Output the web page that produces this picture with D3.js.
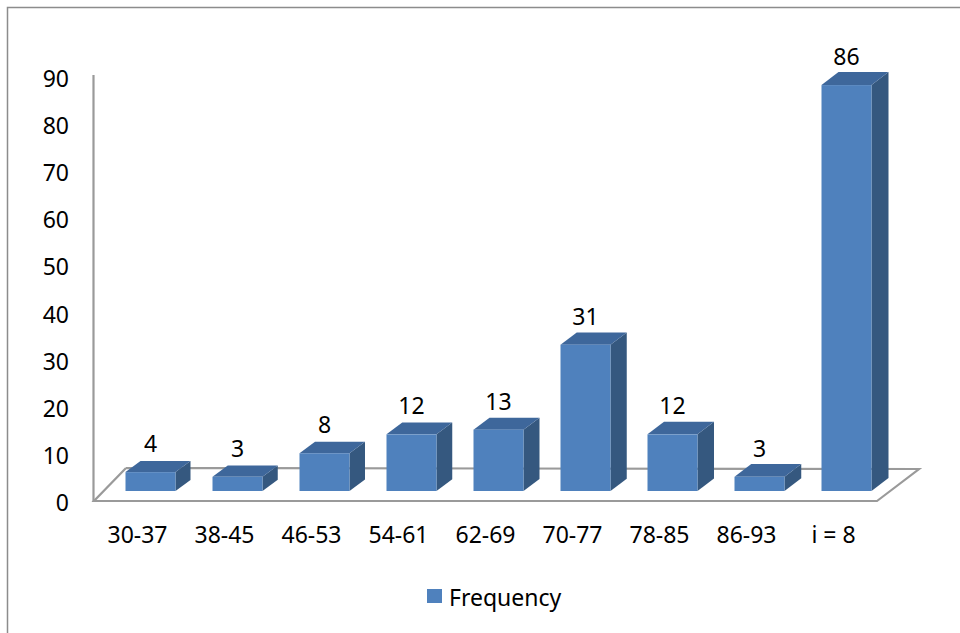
<!DOCTYPE html>
<html>
<head>
<meta charset="utf-8">
<script src="https://cdn.jsdelivr.net/npm/d3@7"></script>
<style>
  html, body { margin: 0; padding: 0; background: #fff; }
  svg { display: block; }
  text { font-family: "Noto Sans", "Open Sans", sans-serif; fill: #000; }
</style>
</head>
<body>
<svg id="chart" width="960" height="633"></svg>
<script>
// Frequency distribution by class interval
const categories = ["30-37", "38-45", "46-53", "54-61", "62-69", "70-77", "78-85", "86-93", "i = 8"];
const frequency = [4, 3, 8, 12, 13, 31, 12, 3, 86];
const yTicks = [0, 10, 20, 30, 40, 50, 60, 70, 80, 90];
const seriesName = "Frequency";

const svg = d3.select("#chart");
const W = 960, H = 633;

// chart frame
svg.append("rect")
  .attr("x", 7.5).attr("y", 7.5)
  .attr("width", W + 10).attr("height", H + 10)
  .attr("fill", "#fff").attr("stroke", "#8c8c8c").attr("stroke-width", 1.5);

// floor geometry (front edge + receding depth)
const floorLeft = 94, floorRight = 877, floorY = 501;
const depthLeft = { dx: 32, dy: -33 }, depthRight = { dx: 42, dy: -32 };

const x = d3.scaleBand().domain(categories).range([floorLeft, floorRight]).paddingInner(0).paddingOuter(0);
// value axis along the front-left edge
const y = d3.scaleLinear().domain([0, 90]).range([502, 78]);
// bar faces sit part-way into the depth, slightly higher
const yBar = d3.scaleLinear().domain([0, 90]).range([491, 491 - 90 * 4.72]);

const axisColor = "#9a9a9a";

// floor outline
const fl = [floorLeft, floorY];
const fr = [floorRight, floorY];
const br = [floorRight + depthRight.dx, floorY + depthRight.dy];
const bl = [floorLeft + depthLeft.dx, floorY + depthLeft.dy];
svg.append("path")
  .attr("d", d3.line()([bl, br, fr, fl, bl]))
  .attr("fill", "none").attr("stroke", axisColor).attr("stroke-width", 2.2)
  .attr("stroke-linejoin", "miter");

// vertical value axis line
svg.append("line")
  .attr("x1", 93.5).attr("x2", 93.5)
  .attr("y1", y(90) - 3).attr("y2", y(0))
  .attr("stroke", axisColor).attr("stroke-width", 2.2);

// value axis labels
svg.append("g").selectAll("text").data(yTicks).join("text")
  .attr("x", 69).attr("y", d => y(d))
  .attr("text-anchor", "end").attr("dominant-baseline", "central")
  .attr("font-size", 23)
  .text(d => d);

// category labels
svg.append("g").selectAll("text").data(categories).join("text")
  .attr("x", d => x(d) + x.bandwidth() / 2)
  .attr("y", 543)
  .attr("text-anchor", "middle")
  .attr("font-size", 23)
  .text(d => d);

// 3D columns
const barW = 50;
const colors = { front: "#4f81bd", top: "#3e679b", side: "#35587f" };
const bars = svg.append("g").selectAll("g").data(frequency.map((v, i) => ({ v, i, c: categories[i] }))).join("g");

bars.each(function (d) {
  const g = d3.select(this);
  const cx = x(d.c) + x.bandwidth() / 2 + 13;
  const x0 = cx - barW / 2, x1 = cx + barW / 2;
  const yb = yBar(0), yt = yBar(d.v);
  const t = d.i / (categories.length - 1);
  const ddx = 15 + 2 * t, ddy = -11 - 2 * t;
  // side face
  g.append("path")
    .attr("d", d3.line()([[x1, yt], [x1 + ddx, yt + ddy], [x1 + ddx, yb + ddy], [x1, yb]]) + "Z")
    .attr("fill", colors.side);
  // top face
  g.append("path")
    .attr("d", d3.line()([[x0, yt], [x0 + ddx, yt + ddy], [x1 + ddx, yt + ddy], [x1, yt]]) + "Z")
    .attr("fill", colors.top);
  // front face
  g.append("rect")
    .attr("x", x0).attr("y", yt)
    .attr("width", barW).attr("height", yb - yt)
    .attr("fill", colors.front);
  // value label
  g.append("text")
    .attr("x", cx).attr("y", yt - 20)
    .attr("text-anchor", "middle")
    .attr("font-size", 23)
    .text(d.v);
});

// legend
const legend = svg.append("g");
legend.append("rect")
  .attr("x", 427).attr("y", 589).attr("width", 15).attr("height", 14)
  .attr("fill", colors.front);
legend.append("text")
  .attr("x", 449).attr("y", 597)
  .attr("dominant-baseline", "central")
  .attr("font-size", 23)
  .text(seriesName);
</script>
</body>
</html>
